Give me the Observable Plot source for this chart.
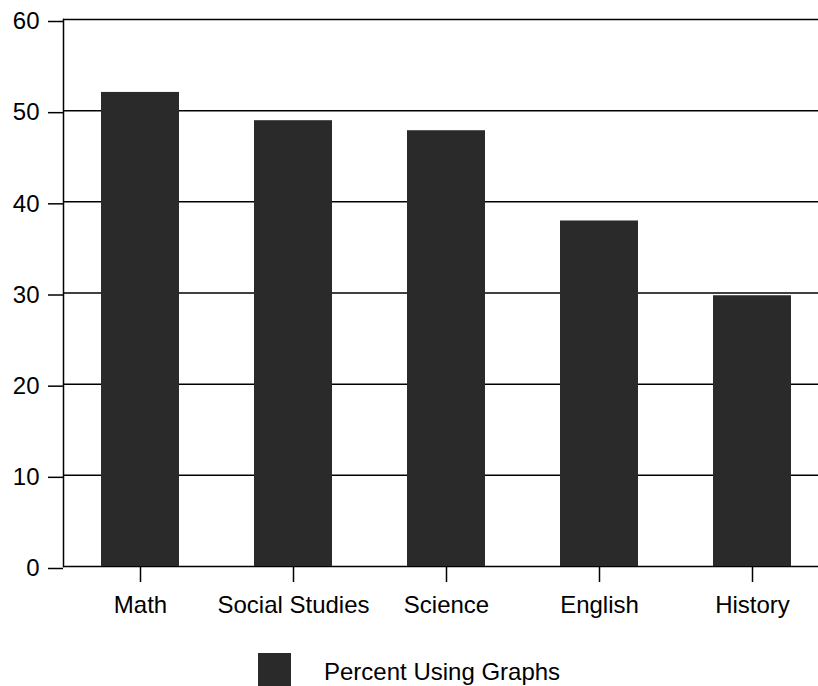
<!DOCTYPE html>
<html>
<head>
<meta charset="utf-8">
<script src="https://cdn.jsdelivr.net/npm/d3@7"></script>
<script src="https://cdn.jsdelivr.net/npm/@observablehq/plot@0.6"></script>
<style>
  html, body { margin: 0; padding: 0; background: #fff; }
  body { width: 818px; height: 686px; overflow: hidden; font-family: "Liberation Sans", Arial, sans-serif; }
  #legend { display: flex; align-items: center; margin-left: 258px; margin-top: 13px; }
  #legend .sw { width: 33px; height: 33px; background: #2a2a2a; }
  #legend .lb { margin-left: 33px; font-size: 24px; color: #000; position: relative; top: 2px; }
</style>
</head>
<body>
<div id="chart"></div>
<div id="legend"><div class="sw"></div><div class="lb">Percent Using Graphs</div></div>
<script>
const subjects = ["Math", "Social Studies", "Science", "English", "History"];
const percents = [52, 48.9, 47.8, 37.9, 29.7];
const yTicks = [0, 10, 20, 30, 40, 50, 60];
const seriesName = "Percent Using Graphs";

const data = subjects.map((s, i) => ({subject: s, value: percents[i]}));

const chart = Plot.plot({
  width: 818,
  height: 640,
  marginLeft: 63,
  marginRight: 0,
  marginTop: 19,
  marginBottom: 74,
  style: {fontFamily: "Liberation Sans, Arial, sans-serif", background: "#fff", color: "#000"},
  x: {domain: subjects, range: [63, 830], paddingInner: 0.49, paddingOuter: 0.245, label: null},
  y: {domain: [0, 60], ticks: yTicks, label: null},
  marks: [
    Plot.ruleY(yTicks, {stroke: "#000", strokeWidth: 1.5}),
    Plot.frame({anchor: "left", stroke: "#000", strokeWidth: 1.5}),
    Plot.barY(data, {x: "subject", y: "value", fill: "#2a2a2a"}),
    Plot.axisY({ticks: yTicks, tickSize: 15, tickPadding: 9, fontSize: 24, dy: 2, stroke: "#000", strokeWidth: 1.5, strokeOpacity: 1, label: null}),
    Plot.axisX({tickSize: 16, tickPadding: 13, fontSize: 24, stroke: "#000", strokeWidth: 1.5, strokeOpacity: 1, label: null})
  ]
});
document.getElementById("chart").appendChild(chart);
</script>
</body>
</html>
